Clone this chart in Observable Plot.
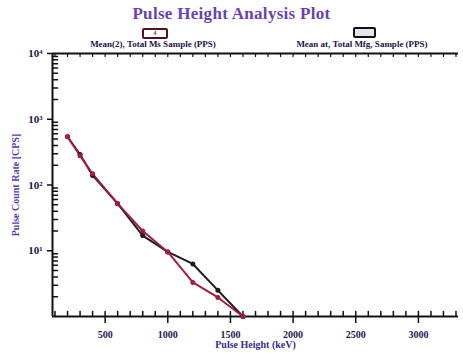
<!DOCTYPE html>
<html><head><meta charset="utf-8">
<script src="https://cdn.jsdelivr.net/npm/d3@7"></script>
<script src="https://cdn.jsdelivr.net/npm/@observablehq/plot@0.6"></script>
<style>
body{margin:0;background:#fff;font-family:"Liberation Serif",serif;}
#wrap{position:relative;width:463px;height:353px;overflow:hidden;background:#fff}
#head{position:relative;width:463px;height:46px}
.title{position:absolute;left:0;width:463px;top:4px;text-align:center;font-weight:bold;font-size:17px;color:#6b3fb5;letter-spacing:0.3px}
.box{position:absolute;height:7px;border:2px solid;border-radius:2px;font-size:6px;line-height:7px;text-align:center;font-weight:bold}
.lt{position:absolute;top:39px;width:180px;text-align:center;font-size:9px;line-height:10px;font-weight:bold;color:#24124a;white-space:nowrap}
</style></head><body>
<div id="wrap">
<div id="head"></div>
<div id="chart"></div>
</div>
<script>
// ---- data ----
const energy = [200, 300, 400, 600, 800, 1000, 1200, 1400, 1600];
const rateRed = [542, 279, 148, 52, 20, 9.6, 3.3, 1.95, 1];
const rateBlack = [542, 290, 140, 52, 17, 9.6, 6.3, 2.5, 1];
const seriesNames = ["Mean(2), Total Ms Sample (PPS)", "Mean at, Total Mfg, Sample (PPS)"];
const seriesColors = ["#a61c3c", "#1c1c1c"];
const boxLabels = ["4", ""];
const xMajorTicks = [500, 1000, 1500, 2000, 2500, 3000];
const xMinorTicks = d3.range(100, 3301, 100);
const yMajorTicks = [10, 100, 1000, 10000];
const yMinorTicks = [2,3,4,5,6,7,8,9].flatMap(m => [1, 10, 100, 1000].map(p => m * p));
const titleText = "Pulse Height Analysis Plot";
const xLabel = "Pulse Height (keV)";
const yLabel = "Pulse Count Rate [CPS]";
const xMin = 80, xMax = 3320, yMin = 1, yMax = 10000;

// ---- header (title + legend) ----
const head = document.getElementById("head");
const t = document.createElement("div"); t.className = "title"; t.textContent = titleText; head.appendChild(t);
const legendPos = [{cx:153, w:22, top:28, fill:"#fff"}, {cx:362, w:19, top:27, fill:"#e6e2ee"}];
seriesNames.forEach((name, i) => {
  const p = legendPos[i];
  const b = document.createElement("div"); b.className = "box";
  b.style.left = (p.cx - p.w/2) + "px"; b.style.width = p.w + "px"; b.style.top = p.top + "px";
  b.style.borderColor = i === 0 ? "#5a0f1f" : "#111"; b.style.background = p.fill; b.style.color = seriesColors[i];
  b.textContent = boxLabels[i]; head.appendChild(b);
  const l = document.createElement("div"); l.className = "lt";
  l.style.left = (p.cx - 90) + "px"; l.textContent = name; head.appendChild(l);
});

// ---- chart ----
const data = [];
energy.forEach((e, i) => data.push({e, r: rateBlack[i], s: seriesNames[1]}));
energy.forEach((e, i) => data.push({e, r: rateRed[i], s: seriesNames[0]}));
const sup = n => "10" + ({1:"¹",2:"²",3:"³",4:"⁴"})[Math.round(Math.log10(n))];
const tickShape = {draw(ctx, l) { ctx.moveTo(0, 0); ctx.lineTo(0, -l); }};

const chart = Plot.plot({
  width: 463, height: 307,
  marginTop: 7, marginBottom: 37, marginLeft: 52, marginRight: 5,
  style: {fontFamily: "Liberation Serif, serif", fontSize: "9px", fontWeight: "bold", color: "#24124a", background: "white", overflow: "visible"},
  x: {domain: [xMin, xMax]},
  y: {type: "log", domain: [yMin, yMax]},
  color: {domain: seriesNames, range: seriesColors},
  marks: [
    // inward minor ticks
    Plot.vector(xMinorTicks, {x: d => d, y: yMin, length: 5, rotate: 0, anchor: "start", shape: tickShape, stroke: "#111", strokeWidth: 1.5}),
    Plot.vector(xMinorTicks, {x: d => d, y: yMax, length: 3, rotate: 180, anchor: "start", shape: tickShape, stroke: "#111", strokeWidth: 1.2}),
    Plot.vector(yMinorTicks, {x: xMin, y: d => d, length: 5, rotate: 90, anchor: "start", shape: tickShape, stroke: "#111", strokeWidth: 1.5}),
    Plot.axisX(xMajorTicks, {anchor: "bottom", tickSize: 7, tickPadding: 7, tickFormat: d => String(d), label: null, stroke: "#111", strokeWidth: 1.5, fill: "#2a1650", fontSize: 10}),
    Plot.axisY(yMajorTicks, {anchor: "left", tickSize: 5, tickPadding: 5, tickFormat: sup, label: null, stroke: "#111", strokeWidth: 1.5, fill: "#24124a", fontSize: 11}),
    Plot.ruleX([xMin], {stroke: "#111", strokeWidth: 2}),
    Plot.ruleY([yMin], {stroke: "#111", strokeWidth: 2}),
    Plot.ruleY([yMax], {stroke: "#111", strokeWidth: 2}),
    Plot.text([xLabel], {frameAnchor: "bottom", dy: 31, fill: "#3a2a8a", fontSize: 10}),
    Plot.text([yLabel], {frameAnchor: "left", dx: -37, rotate: -90, textAnchor: "middle", fill: "#5b3db0", fontSize: 10}),
    Plot.line(data, {x: "e", y: "r", stroke: "s", z: "s", strokeWidth: 2}),
    Plot.dot(data, {x: "e", y: "r", fill: "s", r: 2.5})
  ]
});
document.getElementById("chart").appendChild(chart);
</script>
</body></html>
